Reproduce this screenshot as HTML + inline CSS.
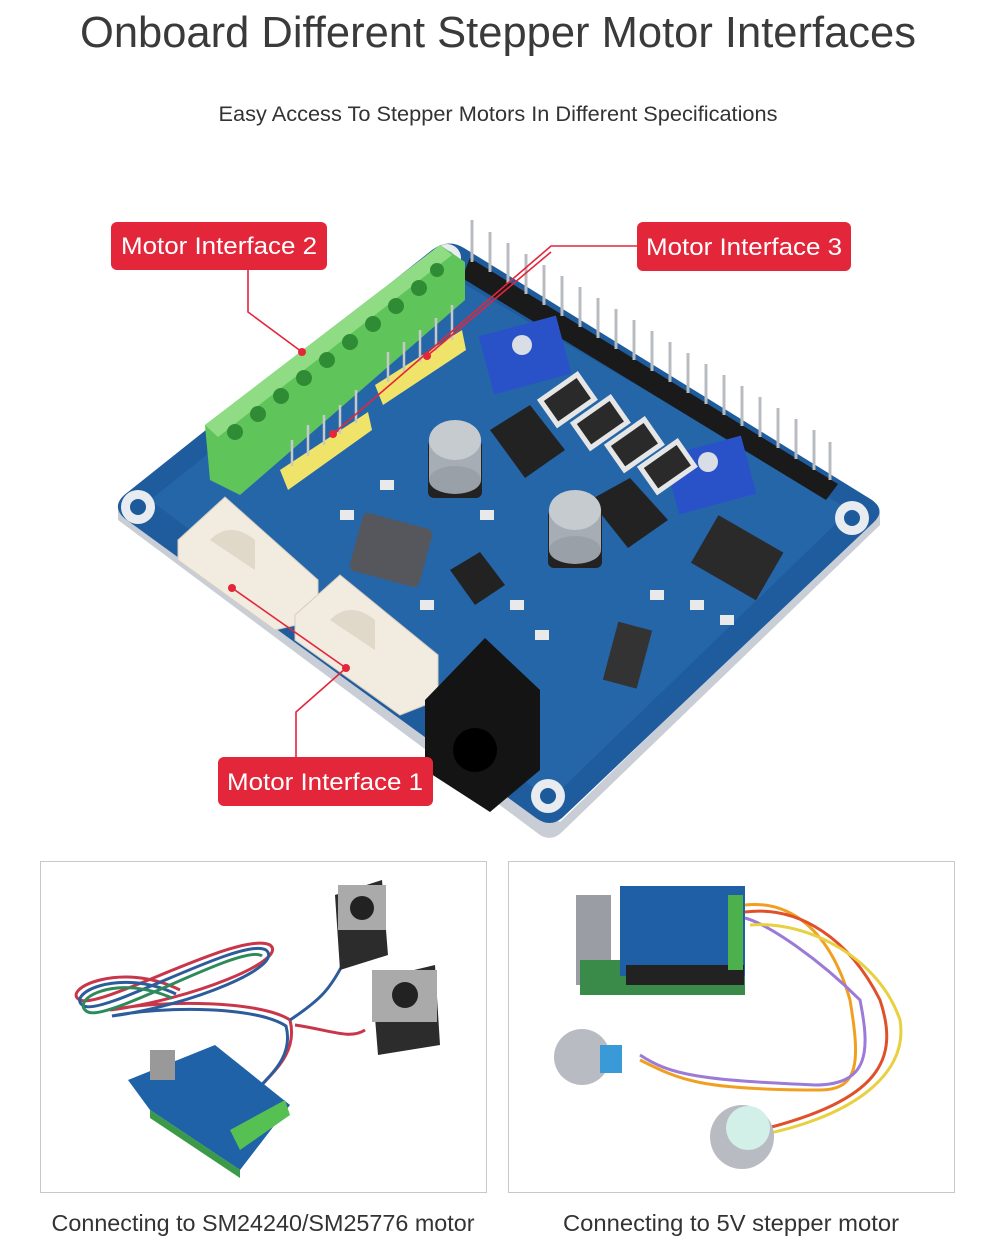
<!DOCTYPE html>
<html><head><meta charset="utf-8"><style>
html,body{margin:0;padding:0;background:#fff;width:1000px;height:1252px;overflow:hidden}
svg{display:block}
</style></head><body>
<svg width="1000" height="1252" viewBox="0 0 1000 1252" xmlns="http://www.w3.org/2000/svg" font-family="Liberation Sans, sans-serif">
<text x="498" y="47" text-anchor="middle" font-size="43.5" fill="#3a3a3a" textLength="836" lengthAdjust="spacingAndGlyphs">Onboard Different Stepper Motor Interfaces</text>
<text x="498" y="121" text-anchor="middle" font-size="21" fill="#333" textLength="559" lengthAdjust="spacingAndGlyphs">Easy Access To Stepper Motors In Different Specifications</text>

<!-- board thickness -->
<path d="M118,520 L540,835 Q552,842 562,832 L880,525 L880,512 L560,822 L118,505 Z" fill="#c9ced6"/>
<!-- board -->
<path d="M128,492 L432,250 Q448,238 464,248 L872,500 Q886,510 874,522 L562,818 Q550,828 536,818 L124,518 Q110,505 128,492 Z" fill="#1f5c9e"/>
<path d="M150,500 L440,270 L850,510 L550,800 Z" fill="#2a6cb0" opacity="0.6"/>
<!-- holes -->
<g fill="#e8ebef"><circle cx="138" cy="507" r="17"/><circle cx="852" cy="518" r="17"/><circle cx="548" cy="796" r="17"/><circle cx="447" cy="258" r="14"/></g>
<g fill="#1d5a9c"><circle cx="138" cy="507" r="8"/><circle cx="852" cy="518" r="8"/><circle cx="548" cy="796" r="8"/><circle cx="447" cy="258" r="7"/></g>

<!-- pin header -->
<path d="M470,258 L838,484 L826,500 L462,278 Z" fill="#1a1a1a"/>
<g stroke="#b8bcc0" stroke-width="3">
<line x1="472" y1="262" x2="472" y2="220"/><line x1="490" y1="272" x2="490" y2="232"/><line x1="508" y1="283" x2="508" y2="243"/><line x1="526" y1="294" x2="526" y2="254"/><line x1="544" y1="305" x2="544" y2="265"/><line x1="562" y1="316" x2="562" y2="276"/><line x1="580" y1="327" x2="580" y2="287"/><line x1="598" y1="338" x2="598" y2="298"/><line x1="616" y1="349" x2="616" y2="309"/><line x1="634" y1="360" x2="634" y2="320"/><line x1="652" y1="371" x2="652" y2="331"/><line x1="670" y1="382" x2="670" y2="342"/><line x1="688" y1="393" x2="688" y2="353"/><line x1="706" y1="404" x2="706" y2="364"/><line x1="724" y1="415" x2="724" y2="375"/><line x1="742" y1="426" x2="742" y2="386"/><line x1="760" y1="437" x2="760" y2="397"/><line x1="778" y1="448" x2="778" y2="408"/><line x1="796" y1="459" x2="796" y2="419"/><line x1="814" y1="470" x2="814" y2="430"/><line x1="830" y1="480" x2="830" y2="442"/>
</g>

<!-- green terminal block -->
<path d="M205,425 L440,245 L465,262 L465,300 L240,495 L210,480 Z" fill="#5fc55a"/>
<path d="M205,425 L440,245 L452,255 L218,437 Z" fill="#8fdc85"/>
<g fill="#2f8c35"><circle cx="235" cy="432" r="8"/><circle cx="258" cy="414" r="8"/><circle cx="281" cy="396" r="8"/><circle cx="304" cy="378" r="8"/><circle cx="327" cy="360" r="8"/><circle cx="350" cy="342" r="8"/><circle cx="373" cy="324" r="8"/><circle cx="396" cy="306" r="8"/><circle cx="419" cy="288" r="8"/><circle cx="437" cy="270" r="7"/></g>
<!-- yellow headers -->
<path d="M280,470 L368,412 L372,430 L288,490 Z" fill="#f0e36a"/>
<path d="M375,385 L462,330 L466,350 L383,405 Z" fill="#f0e36a"/>
<g stroke="#c8c8c8" stroke-width="2.5">
<line x1="292" y1="466" x2="292" y2="440"/><line x1="308" y1="456" x2="308" y2="425"/><line x1="324" y1="445" x2="324" y2="415"/><line x1="340" y1="434" x2="340" y2="405"/><line x1="356" y1="423" x2="356" y2="390"/>
<line x1="388" y1="382" x2="388" y2="352"/><line x1="404" y1="372" x2="404" y2="342"/><line x1="420" y1="362" x2="420" y2="330"/><line x1="436" y1="351" x2="436" y2="318"/><line x1="452" y1="340" x2="452" y2="305"/>
</g>

<!-- white connectors -->
<path d="M178,540 L225,497 L318,580 L318,620 L275,630 L178,560 Z" fill="#f1ebe0" stroke="#d6cdbd"/>
<path d="M295,615 L340,575 L438,655 L438,700 L400,715 L295,640 Z" fill="#f1ebe0" stroke="#d6cdbd"/>
<path d="M210,540 Q230,520 255,540 L255,570 Z" fill="#e0d8c8"/>
<path d="M330,620 Q350,600 375,620 L375,650 Z" fill="#e0d8c8"/>

<!-- blue pots -->
<rect x="485" y="325" width="80" height="60" fill="#2a52c8" transform="rotate(-15 525 355)"/>
<circle cx="522" cy="345" r="10" fill="#d8dde6"/>
<rect x="670" y="445" width="80" height="60" fill="#2a52c8" transform="rotate(-15 710 475)"/>
<circle cx="708" cy="462" r="10" fill="#d8dde6"/>

<!-- resistors -->
<g fill="#2a2a2a" stroke="#e6e6e6" stroke-width="5">
<rect x="545" y="385" width="45" height="30" transform="rotate(-35 567 400)"/>
<rect x="578" y="408" width="45" height="30" transform="rotate(-35 600 423)"/>
<rect x="612" y="430" width="45" height="30" transform="rotate(-35 634 445)"/>
<rect x="645" y="452" width="45" height="30" transform="rotate(-35 667 467)"/>
</g>
<!-- chips -->
<path d="M490,430 L530,405 L565,450 L525,478 Z" fill="#222"/>
<path d="M590,500 L630,478 L668,520 L628,548 Z" fill="#222"/>
<path d="M450,570 L480,552 L505,585 L475,605 Z" fill="#222"/>
<!-- caps -->
<rect x="428" y="440" width="54" height="58" rx="6" fill="#222"/>
<rect x="429" y="440" width="52" height="40" fill="#a7adb4"/>
<ellipse cx="455" cy="480" rx="26" ry="14" fill="#9aa0a7"/>
<ellipse cx="455" cy="440" rx="26" ry="20" fill="#c6cbd0"/>
<rect x="548" y="510" width="54" height="58" rx="6" fill="#222"/>
<rect x="549" y="510" width="52" height="40" fill="#a7adb4"/>
<ellipse cx="575" cy="550" rx="26" ry="14" fill="#9aa0a7"/>
<ellipse cx="575" cy="510" rx="26" ry="20" fill="#c6cbd0"/>
<!-- inductor -->
<rect x="355" y="520" width="72" height="60" rx="6" fill="#55575c" transform="rotate(15 391 550)"/>
<!-- dip switch -->
<rect x="700" y="530" width="75" height="55" fill="#2a2a2a" transform="rotate(30 737 557)"/>
<!-- slide switch -->
<rect x="610" y="625" width="35" height="60" fill="#333" transform="rotate(15 627 655)"/>
<!-- DC jack -->
<path d="M425,700 L485,638 L540,690 L540,770 L490,812 L425,770 Z" fill="#141414"/>
<circle cx="475" cy="750" r="22" fill="#000"/>
<!-- small smd -->
<g fill="#e9e9e9"><rect x="380" y="480" width="14" height="10"/><rect x="340" y="510" width="14" height="10"/><rect x="510" y="600" width="14" height="10"/><rect x="535" y="630" width="14" height="10"/><rect x="650" y="590" width="14" height="10"/><rect x="690" y="600" width="14" height="10"/><rect x="720" y="615" width="14" height="10"/><rect x="480" y="510" width="14" height="10"/><rect x="420" y="600" width="14" height="10"/></g>

<!-- callout lines -->
<g stroke="#e3263a" stroke-width="1.6" fill="none">
<polyline points="248,270 248,312 302,352"/>
<polyline points="637,246 551,246 333,434"/>
<line x1="427" y1="356" x2="551" y2="252"/>
<line x1="232" y1="588" x2="346" y2="668"/>
<polyline points="346,668 296,712 296,757"/>
</g>
<g fill="#e3263a"><circle cx="302" cy="352" r="4"/><circle cx="333" cy="434" r="4"/><circle cx="427" cy="356" r="4"/><circle cx="232" cy="588" r="4"/><circle cx="346" cy="668" r="4"/></g>

<!-- labels -->
<rect x="111" y="222" width="216" height="48" rx="6" fill="#e3263a"/>
<text x="219" y="254" text-anchor="middle" font-size="24" fill="#fff" textLength="196" lengthAdjust="spacingAndGlyphs">Motor Interface 2</text>
<rect x="637" y="222" width="214" height="49" rx="6" fill="#e3263a"/>
<text x="744" y="255" text-anchor="middle" font-size="24" fill="#fff" textLength="196" lengthAdjust="spacingAndGlyphs">Motor Interface 3</text>
<rect x="218" y="757" width="215" height="49" rx="6" fill="#e3263a"/>
<text x="325" y="790" text-anchor="middle" font-size="24" fill="#fff" textLength="196" lengthAdjust="spacingAndGlyphs">Motor Interface 1</text>

<!-- bottom boxes -->
<rect x="40.5" y="861.5" width="446" height="331" fill="#fff" stroke="#c8c8c8"/>
<rect x="508.5" y="861.5" width="446" height="331" fill="#fff" stroke="#c8c8c8"/>

<!-- left image -->
<g fill="none" stroke-width="3">
<path d="M180,990 C120,960 60,990 80,1000 C100,1010 240,930 270,945 C290,960 190,1000 110,1010 C160,1000 260,1000 290,1020 C300,1060 260,1080 250,1100" stroke="#c8364a"/>
<path d="M176,994 C116,966 64,996 84,1006 C104,1016 242,936 266,950 C286,966 190,1006 112,1016 C164,1006 256,1006 286,1026 C296,1064 256,1084 246,1104" stroke="#2c5c9a"/>
<path d="M172,998 C112,972 68,1002 88,1012 C108,1022 244,942 262,956" stroke="#2d8a5a"/>
<path d="M290,1020 C320,1000 330,990 345,960" stroke="#2c5c9a"/>
<path d="M295,1025 C330,1030 350,1040 365,1030" stroke="#c8364a"/>
</g>
<path d="M335,895 L382,880 L388,955 L340,970 Z" fill="#2c2c2c"/>
<rect x="338" y="885" width="48" height="45" fill="#aaa"/>
<circle cx="362" cy="908" r="12" fill="#222"/>
<path d="M372,980 L435,965 L440,1045 L378,1055 Z" fill="#2c2c2c"/>
<rect x="372" y="970" width="65" height="52" fill="#aaa"/>
<circle cx="405" cy="995" r="13" fill="#222"/>
<path d="M128,1080 L215,1045 L290,1105 L240,1170 L150,1110 Z" fill="#1f62a8"/>
<path d="M150,1110 L240,1170 L240,1178 L150,1118 Z" fill="#3a9a48"/>
<path d="M230,1130 L285,1100 L290,1115 L240,1150 Z" fill="#56c052"/>
<rect x="150" y="1050" width="25" height="30" fill="#999"/>

<!-- right image -->
<rect x="576" y="895" width="35" height="90" fill="#9a9ea4"/>
<rect x="580" y="960" width="165" height="35" fill="#3a8a4a"/>
<rect x="620" y="886" width="125" height="90" fill="#1f5fa5"/>
<rect x="626" y="965" width="118" height="20" fill="#222"/>
<rect x="728" y="895" width="15" height="75" fill="#4cb04c"/>
<g fill="none" stroke-width="3">
<path d="M745,905 C790,900 830,930 850,1000 C860,1060 860,1090 820,1090 C700,1090 680,1080 640,1060" stroke="#f0a020"/>
<path d="M745,912 C800,905 850,940 880,1000 C900,1060 880,1100 760,1130" stroke="#e0502a"/>
<path d="M745,918 C770,925 820,960 860,1000 C870,1050 870,1085 815,1085 C700,1080 670,1075 640,1055" stroke="#9b7ad8"/>
<path d="M750,925 C810,920 880,960 900,1020 C910,1080 840,1120 760,1135" stroke="#e8d040"/>
</g>
<circle cx="582" cy="1057" r="28" fill="#b8bcc2"/>
<rect x="600" y="1045" width="22" height="28" fill="#3a9ad8"/>
<circle cx="742" cy="1137" r="32" fill="#b8bcc2"/>
<circle cx="748" cy="1128" r="22" fill="#d2efe8"/>

<text x="263" y="1231" text-anchor="middle" font-size="23" fill="#333" textLength="423" lengthAdjust="spacingAndGlyphs">Connecting to SM24240/SM25776 motor</text>
<text x="731" y="1231" text-anchor="middle" font-size="23" fill="#333" textLength="336" lengthAdjust="spacingAndGlyphs">Connecting to 5V stepper motor</text>
</svg>
</body></html>
